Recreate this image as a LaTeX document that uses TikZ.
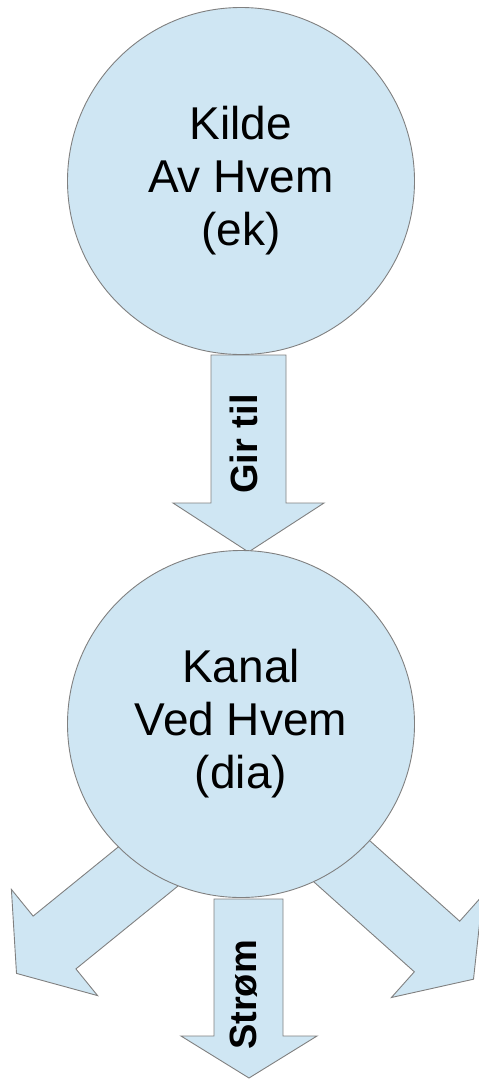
\documentclass[tikz,border=0pt]{standalone}
\usepackage{fontspec}
\setmainfont{Liberation Sans}
\definecolor{bubble}{RGB}{207,230,243}
\definecolor{edge}{RGB}{128,128,128}
\begin{document}
\begin{tikzpicture}[x=1pt,y=-1pt,
  shapefill/.style={fill=bubble,draw=edge,line width=0.9pt,line join=miter},
  bubblenode/.style={circle,shapefill,inner sep=0pt,minimum size=347pt,align=center,
     font=\fontsize{46}{53}\selectfont},
  arrowlabel/.style={rotate=90,inner sep=0pt,font=\bfseries\fontsize{38}{44}\selectfont}]
\useasboundingbox (0,0) rectangle (479,1079);
\begin{scope}
\clip (0,0) rectangle (479,1079);
% block arrows (drawn beneath the circles)
\draw[shapefill] (211,355) -- (286,355) -- (286,503) -- (324,503) -- (248.5,552)
   -- (173,503) -- (211,503) -- cycle;
\draw[shapefill] (214,899) -- (283,899) -- (283,1036) -- (317,1036) -- (249,1078)
   -- (181,1036) -- (214,1036) -- cycle;
\draw[shapefill] (188.3,790.1) -- (33.1,916.1) -- (11.4,889.4) -- (16.5,973.4)
   -- (97.6,995.6) -- (75.9,968.9) -- (231.1,842.9) -- cycle;
\draw[shapefill] (310.7,787.8) -- (459.7,921.2) -- (482.6,895.5) -- (473.5,979.2)
   -- (391.4,997.5) -- (414.3,971.8) -- (265.3,838.4) -- cycle;
\end{scope}
\node[bubblenode] (kilde) at (241,181) {Kilde\\Av Hvem\\(ek)};
\node[bubblenode] (kanal) at (241,724) {Kanal\\Ved Hvem\\(dia)};
\node[arrowlabel] (girtil) at (244,444) {Gir til};
\node[arrowlabel] (strom) at (244,995) {Strøm};
\end{tikzpicture}
\end{document}
